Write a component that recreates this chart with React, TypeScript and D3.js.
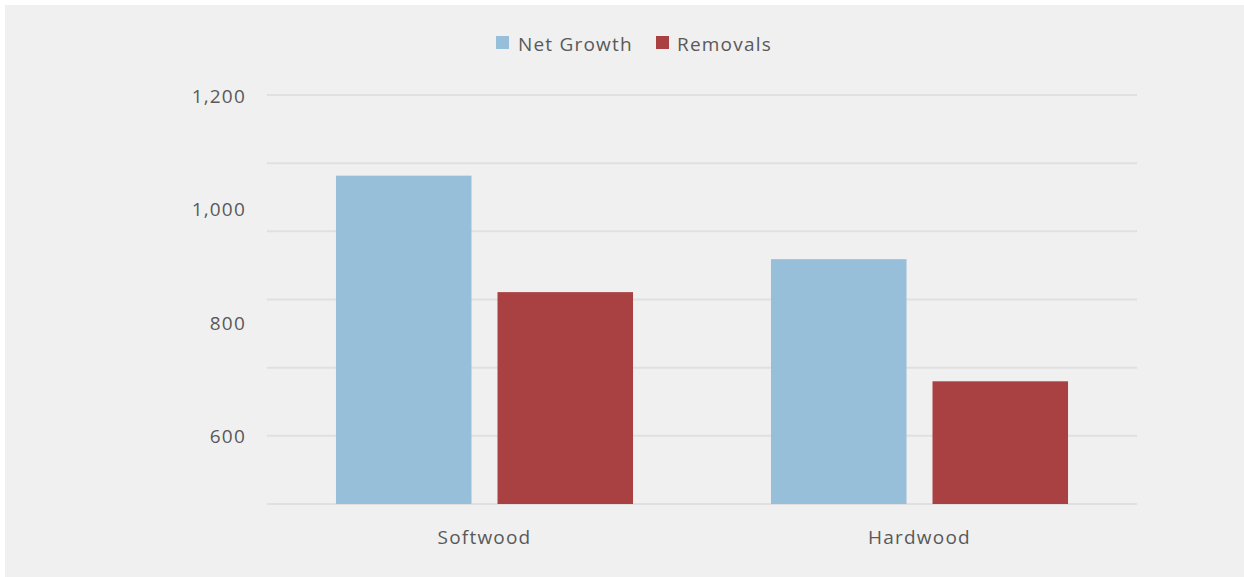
import React from "react";
import * as d3 from "d3";

const categories = ["Softwood", "Hardwood"];
const seriesNames = ["Net Growth", "Removals"];
const netGrowth = [1058, 911];
const removals = [853, 696];
const tickLabels = [600, 800, 1000, 1200];
const gridValues = [480, 600, 720, 840, 960, 1080, 1200];
const colors = ["#98bfda", "#a94142"];

const W = 1244;
const H = 577;

export default function App() {
  const margin = { left: 267, right: 107, top: 95, bottom: 73 };
  const x0 = d3
    .scaleBand<string>()
    .domain(categories)
    .range([margin.left, W - margin.right])
    .padding(0);
  const x1 = d3
    .scaleBand<string>()
    .domain(seriesNames)
    .range([0, x0.bandwidth()])
    .paddingInner(0.161)
    .paddingOuter(0.427);
  const y = d3.scaleLinear().domain([480, 1200]).range([H - margin.bottom, margin.top]);
  const values = [netGrowth, removals];
  const font = "'Open Sans', 'Noto Sans', sans-serif";
  const textColor = "#595959";
  const fs = 19;
  const ls = 1.2;

  const legendItems = [
    { name: seriesNames[0], color: colors[0], x: 496, tx: 518 },
    { name: seriesNames[1], color: colors[1], x: 656, tx: 677 },
  ];

  return (
    <svg
      width={W}
      height={H}
      style={{ position: "absolute", left: 0, top: 0, display: "block" }}
      fontFamily={font}
    >
      <rect x={0} y={0} width={W} height={H} fill="#ffffff" />
      <rect x={5} y={5} width={W - 5} height={H - 5} fill="#f0f0f0" />
      {gridValues.map((v) => (
        <line
          key={v}
          x1={margin.left}
          x2={W - margin.right}
          y1={y(v)}
          y2={y(v)}
          stroke="#e0e0e0"
          strokeWidth={2}
        />
      ))}
      {tickLabels.map((v) => (
        <text
          key={v}
          x={246}
          y={y(v) + 1}
          dy="0.35em"
          textAnchor="end"
          fontSize={fs}
          letterSpacing={ls}
          fill={textColor}
        >
          {d3.format(",")(v)}
        </text>
      ))}
      {categories.map((c, ci) =>
        seriesNames.map((s, si) => {
          const v = values[si][ci];
          return (
            <rect
              key={c + s}
              x={(x0(c) as number) + (x1(s) as number)}
              y={y(v)}
              width={x1.bandwidth()}
              height={y(480) - y(v)}
              fill={colors[si]}
            />
          );
        })
      )}
      {categories.map((c) => (
        <text
          key={c}
          x={(x0(c) as number) + x0.bandwidth() / 2}
          y={537}
          dy="0.35em"
          textAnchor="middle"
          fontSize={fs}
          letterSpacing={ls}
          fill={textColor}
        >
          {c}
        </text>
      ))}
      {legendItems.map((it) => (
        <g key={it.name}>
          <rect x={it.x} y={36} width={13} height={13} fill={it.color} />
          <text
            x={it.tx}
            y={44}
            dy="0.35em"
            fontSize={fs}
            letterSpacing={ls}
            fill={textColor}
          >
            {it.name}
          </text>
        </g>
      ))}
    </svg>
  );
}
